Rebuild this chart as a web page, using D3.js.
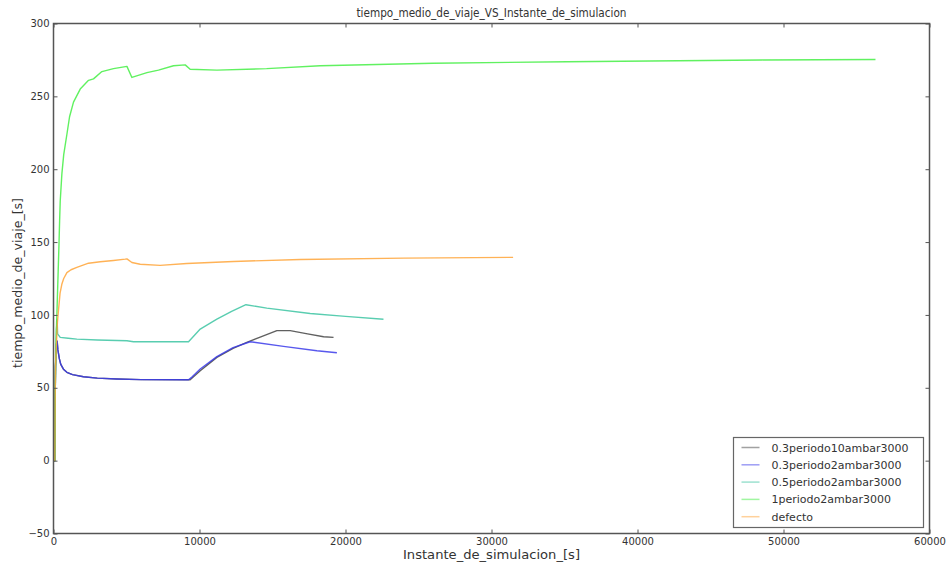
<!DOCTYPE html>
<html>
<head>
<meta charset="utf-8">
<script src="https://cdn.jsdelivr.net/npm/d3@7"></script>
<style>
body { margin: 0; background: #fff; }
text { font-family: "DejaVu Sans", sans-serif; fill: #333; }
</style>
</head>
<body>
<svg id="chart"></svg>
<script>
// series, [instante (s), tiempo medio (s)]
var serieNegra = [[0,0],[90,0],[110,40],[140,65],[200,80],[250,82],[300,76],[400,70],[500,66],[700,62.5],[918,60.6],[1300,59],[2055,57.6],[3000,56.6],[4340,56],[6000,55.6],[9250,55.5],
    [9360,55.5],[10050,61.7],[11190,70.9],[12300,77],[13240,81.2],[14200,85],[15300,89.2],[16210,89.2],[17400,87],[18500,85],[19180,84.6]]
var serieAzul = [[0,0],[90,0],[110,40],[140,65],[200,80],[250,82],[300,76],[400,70],[500,66],[700,62.5],[918,60.6],[1300,59],[2055,57.6],[3000,56.6],[4340,56],[6000,55.6],[9250,55.5],
    [9500,57.5],[10050,62.9],[11190,71.4],[12300,77.5],[13470,81.6],[15750,78.4],[18040,75.4],[19410,74]]
var serieTurquesa = [[0,0],[90,0],[110,40],[140,65],[200,90],[250,97],[280,87],[460,84.6],[1000,84],[1600,83.4],[3000,82.8],[5030,82.3],[5480,81.6],[9250,81.6],
    [10050,90.3],[11190,97.1],[12200,102.5],[13180,107],[14610,104.7],[17580,101],[20000,99],[22600,97]]
var serieVerde = [[0,0],[90,0],[110,40],[140,65],[200,90],[260,110],[320,130],[380,150],[420,165],[460,178],[575,197],[700,210],[918,224],[1100,236],[1370,246],[1830,255],
    [2400,261],[2740,262],[3315,267],[4110,269],[5030,270.6],[5370,263],[6400,266.3],[7190,268],[8220,271],[9020,271.6],[9360,268.6],[11190,268],[14600,269],
    [18270,271],[26000,272.7],[35160,273.8],[48520,275],[56300,275.3]]
var serieNaranja = [[0,0],[90,0],[110,40],[140,65],[200,80],[270,95],[340,103],[450,115],[570,121],[700,125],[918,129],[1200,131],[1600,132.6],[2400,135.5],[3200,136.5],
    [4110,137.4],[4910,138.3],[5030,138.5],[5370,136],[5940,134.8],[7300,134],[9130,135.3],[12330,136.7],[16900,138],[24000,139],[31480,139.5]]

var nombres = ["0.3periodo10ambar3000","0.3periodo2ambar3000","0.5periodo2ambar3000","1periodo2ambar3000","defecto"]
var colores = ["#444444","#3b3bea","#3cc4a2","#44ee44","#ffa438"]
var xTicks = [0,10000,20000,30000,40000,50000,60000]
var yTicks = [-50,0,50,100,150,200,250,300]

var series = [serieNegra,serieAzul,serieTurquesa,serieVerde,serieNaranja]

var screen = {width:950,height:570}
var margin = {left:53.5,right:20.5,top:23.5,bottom:36.5}
var w = screen.width - margin.left - margin.right
var h = screen.height - margin.top - margin.bottom

var svg = d3.select("#chart")
    .attr("width",screen.width)
    .attr("height",screen.height)

var xscale = d3.scaleLinear()
    .domain([0,60000])
    .range([0,w])

var yscale = d3.scaleLinear()
    .domain([-50,300])
    .range([h,0])

var g = svg.append("g")
    .attr("transform","translate("+margin.left+","+margin.top+")")

var line = d3.line()
    .x(function(d){ return xscale(d[0]) })
    .y(function(d){ return yscale(d[1]) })

g.selectAll("path.serie")
    .data(series)
    .enter()
    .append("path")
    .attr("class","serie")
    .attr("d",line)
    .attr("fill","none")
    .attr("stroke",function(d,i){ return colores[i] })
    .attr("stroke-width",1.4)
    .attr("stroke-opacity",0.85)
    .attr("stroke-linejoin","round")

// axes with inward ticks on all four sides (matplotlib classic)
var styleAxis = function(sel)
{
    sel.select(".domain").remove()
    sel.selectAll(".tick line").attr("stroke","#555")
    sel.selectAll(".tick text").style("font-size","10px").attr("fill","#333")
}

g.append("g")
    .attr("transform","translate(0,"+h+")")
    .call(d3.axisBottom(xscale).tickValues(xTicks).tickFormat(d3.format("d")).tickSizeInner(-4).tickSizeOuter(0).tickPadding(4))
    .call(styleAxis)

g.append("g")
    .call(d3.axisTop(xscale).tickValues(xTicks).tickSizeInner(-4).tickSizeOuter(0).tickFormat(""))
    .call(styleAxis)

g.append("g")
    .call(d3.axisLeft(yscale).tickValues(yTicks).tickFormat(function(d){ return d < 0 ? "\u2212" + Math.abs(d) : d }).tickSizeInner(-4).tickSizeOuter(0).tickPadding(4))
    .call(styleAxis)

g.append("g")
    .attr("transform","translate("+w+",0)")
    .call(d3.axisRight(yscale).tickValues(yTicks).tickSizeInner(-4).tickSizeOuter(0).tickFormat(""))
    .call(styleAxis)

g.append("rect")
    .attr("width",w)
    .attr("height",h)
    .attr("fill","none")
    .attr("stroke","#555")
    .attr("stroke-width",1.5)

// titles
svg.append("text")
    .attr("x",margin.left + w/2)
    .attr("y",17)
    .attr("text-anchor","middle")
    .style("font-size","12px")
    .attr("textLength",270)
    .attr("lengthAdjust","spacingAndGlyphs")
    .text("tiempo_medio_de_viaje_VS_Instante_de_simulacion")

svg.append("text")
    .attr("x",margin.left + w/2)
    .attr("y",559)
    .attr("text-anchor","middle")
    .style("font-size","13px")
    .attr("textLength",177)
    .attr("lengthAdjust","spacingAndGlyphs")
    .text("Instante_de_simulacion_[s]")

svg.append("text")
    .attr("transform","translate(22,283) rotate(-90)")
    .attr("text-anchor","middle")
    .style("font-size","13px")
    .attr("textLength",170)
    .attr("lengthAdjust","spacingAndGlyphs")
    .text("tiempo_medio_de_viaje_[s]")

// legend
var legend = svg.append("g")
    .attr("transform","translate(733.5,437.5)")

legend.append("rect")
    .attr("width",190)
    .attr("height",90)
    .attr("fill","#fff")
    .attr("stroke","#666")
    .attr("stroke-width",1.2)

var item = legend.selectAll("g.item")
    .data(nombres)
    .enter()
    .append("g")
    .attr("class","item")
    .attr("transform",function(d,i){ return "translate(0,"+(10 + i*17.3)+")" })

item.append("line")
    .attr("x1",8)
    .attr("x2",26)
    .attr("stroke",function(d,i){ return colores[i] })
    .attr("stroke-opacity",0.5)
    .attr("stroke-width",1.5)

item.append("text")
    .attr("x",38)
    .attr("y",4)
    .style("font-size","11px")
    .text(function(d){ return d })
</script>
</body>
</html>
